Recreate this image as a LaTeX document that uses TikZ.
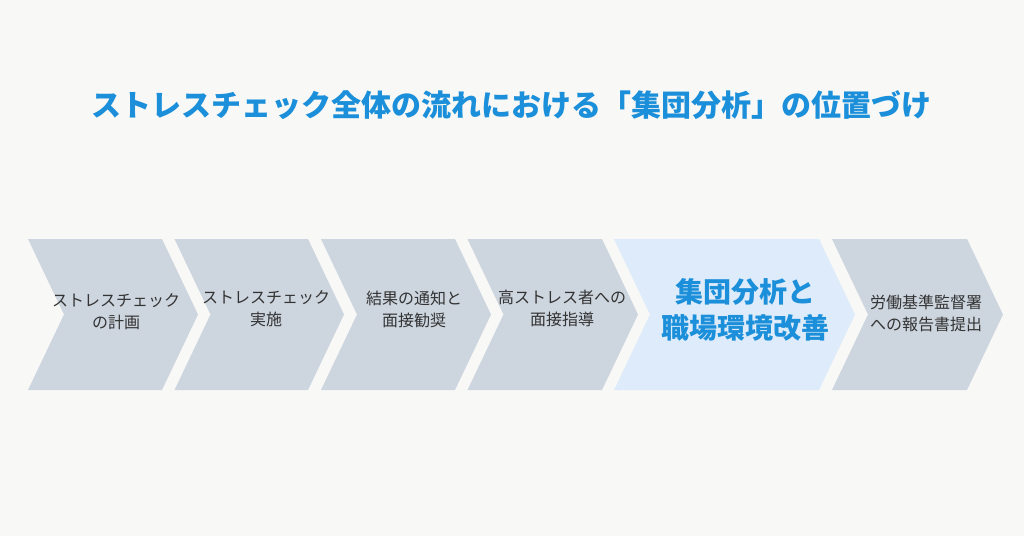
\documentclass[tikz,border=0pt]{standalone}
\usepackage{fontspec}
\setmainfont{Noto Sans CJK JP}
\usetikzlibrary{positioning}

\definecolor{bgcol}{HTML}{F8F8F6}
\definecolor{stepgray}{HTML}{CDD5DF}
\definecolor{stephigh}{HTML}{DDEBFA}
\definecolor{titleblue}{HTML}{1B8FD9}
\definecolor{textgray}{HTML}{333333}

\begin{document}
\begin{tikzpicture}[
x=1pt, y=-1pt,
stepshape/.style={fill=stepgray},
highshape/.style={fill=stephigh},
steptext/.style={
  text=textgray,
  font=\fontsize{16}{22}\selectfont,
  align=center,
  inner sep=0pt
},
hightext/.style={
  text=titleblue,
  font=\bfseries\fontsize{28}{36}\selectfont,
  align=center,
  inner sep=0pt
},
titletext/.style={
  text=titleblue,
  font=\bfseries\fontsize{30}{36}\selectfont,
  inner sep=0pt
}
]

\fill[bgcol] (0,0) rectangle (1024,536);
\useasboundingbox (0,0) rectangle (1024,536);

\node[titletext] (title) at (511,105)
    {ストレスチェック全体の流れにおける「集団分析」の位置づけ};

% chevrons: left edge, top-right corner, style
\foreach \l/\r/\s in {28/162/stepshape, 174.5/308/stepshape, 321/455/stepshape,
                      467.5/602/stepshape, 614/819/highshape, 832/967/stepshape}{
  \fill[\s] (\l,239) -- (\r,239) -- (\r+36,314.5) -- (\r,390)
     -- (\l,390) -- (\l+36,314.5) -- cycle;
}

\node[steptext] (plan) at (116,312)
    {ストレスチェック\\の計画};
\node[steptext] (exec) at (266,309)
    {ストレスチェック\\実施};
\node[steptext] (notice) at (414,309)
    {結果の通知と\\面接勧奨};
\node[steptext] (guide) at (562,308)
    {高ストレス者への\\面接指導};
\node[hightext] (analysis) at (745,310)
    {集団分析と\\職場環境改善};
\node[steptext] (report) at (926,313)
    {労働基準監督署\\への報告書提出};
\end{tikzpicture}
\end{document}
